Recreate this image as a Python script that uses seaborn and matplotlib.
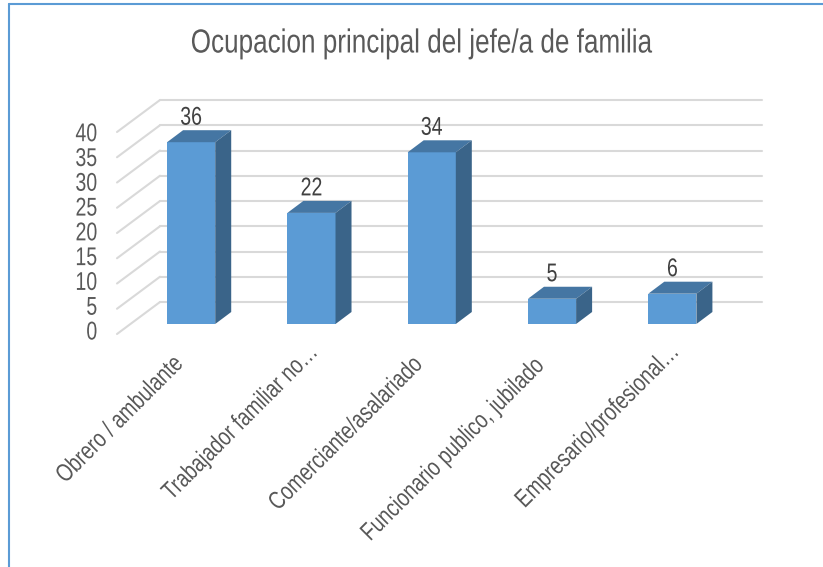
import matplotlib
matplotlib.use('Agg')
import matplotlib.pyplot as plt
import matplotlib.patheffects as pe
import seaborn as sns
from matplotlib.lines import Line2D
from matplotlib.patches import Polygon
from matplotlib.transforms import Affine2D, ScaledTranslation

categories = ['Obrero / ambulante', 'Trabajador familiar no…', 'Comerciante/asalariado',
              'Funcionario publico, jubilado', 'Empresario/profesional…']
values = [36, 22, 34, 5, 6]
y_ticks = [0, 5, 10, 15, 20, 25, 30, 35, 40]

W, H = 823, 567
FRONT = '#5B9BD5'
TOP = '#4576A3'
SIDE = '#3A6489'
GRID = '#D9D9D9'
TEXT = '#595959'
LABEL = '#404040'

sns.set_theme(style='white')
plt.rcParams['font.family'] = ['Liberation Sans', 'DejaVu Sans']


class Squeeze(pe.AbstractPathEffect):
    """Narrows text along its baseline, the reference font is condensed."""

    def __init__(self, factor=0.78, anchor='center'):
        super().__init__()
        self.factor = factor
        self.anchor = anchor

    def draw_path(self, renderer, gc, tpath, affine, rgbFace=None):
        box = tpath.get_extents()
        x = {'left': box.x0, 'right': box.x1, 'center': (box.x0 + box.x1) / 2}[self.anchor]
        squeeze = Affine2D().translate(-x, 0).scale(self.factor, 1).translate(x, 0)
        renderer.draw_path(gc, tpath, squeeze + affine, rgbFace)


fig = plt.figure(figsize=(W / 100, H / 100), dpi=100)


def px_axes(left, right, top, bottom):
    ax_new = fig.add_axes([left / W, 1 - bottom / H, (right - left) / W, (bottom - top) / H])
    ax_new.patch.set_alpha(0)
    sns.despine(ax=ax_new, left=True, bottom=True)
    return ax_new


# walls: diagonals on the left side, horizontal lines on the back
ax_wall = px_axes(117, 719, 132, 334)
ax_wall.set_xlim(117, 719)
ax_wall.set_ylim(0, 40)
ax_wall.set_xticks([])
ax_wall.set_yticks([])
for v in y_ticks:
    ax_wall.plot([117, 160], [v, v + 32 / 5.05], color=GRID, lw=1.5, clip_on=False)
    ax_wall.plot([160, 762], [v + 32 / 5.05, v + 32 / 5.05], color=GRID, lw=1.5, clip_on=False)

# value ticks have their own axes, their spacing is a bit tighter than the walls
ax_ticks = px_axes(117, 719, 131.7, 330)
ax_ticks.set_ylim(0, 40)
ax_ticks.set_xticks([])
ax_ticks.set_yticks(y_ticks)
ax_ticks.tick_params(axis='y', length=0, pad=14, labelsize=18.5, labelcolor=TEXT)
for lab in ax_ticks.get_yticklabels():
    lab.set_path_effects([Squeeze(0.76, 'right')])

ax = px_axes(131, 732.5, 122, 324)
sns.barplot(x=categories, y=values, color=FRONT, saturation=1, width=0.4, ax=ax, zorder=3,
            edgecolor='none', linewidth=0)
ax.set_ylim(0, 40)
ax.set_yticks([])
ax.set_ylabel('')
sns.despine(ax=ax, left=True, bottom=True)

# 3D look: top and side faces built from each bar
dx = 16 / 120.3
dy = 12 / 5.05
for bar in ax.patches:
    x0, w, h = bar.get_x(), bar.get_width(), bar.get_height()
    x1 = x0 + w
    ax.add_patch(Polygon([(x0, h), (x1, h), (x1 + dx, h + dy), (x0 + dx, h + dy)],
                         facecolor=TOP, edgecolor='none', clip_on=False, zorder=3))
    ax.add_patch(Polygon([(x1, 0), (x1 + dx, dy), (x1 + dx, h + dy), (x1, h)],
                         facecolor=SIDE, edgecolor='none', clip_on=False, zorder=3))

for txt in ax.bar_label(ax.containers[0], padding=9, fontsize=18.5, color=LABEL):
    txt.set_path_effects([Squeeze(0.76)])

ax.set_xticks(range(len(categories)))
ax.set_xticklabels(categories, rotation=45, ha='left', va='center', rotation_mode='anchor',
                   fontsize=18, color=TEXT)
ax.tick_params(axis='x', length=0, pad=0)
# the labels do not line up in the reference, place each start (pixels from tick)
label_shift = [(-131, -155), (-145, -172), (-159, -182.5), (-187, -213), (-153, -180)]
for lab, (sx, sy) in zip(ax.get_xticklabels(), label_shift):
    lab.set_path_effects([Squeeze(0.78, 'left')])
    lab.set_transform(lab.get_transform() + ScaledTranslation(sx / 100, sy / 100, fig.dpi_scale_trans))

title = fig.text(421 / W, 1 - 44 / H, 'Ocupacion principal del jefe/a de familia',
                 ha='center', va='center', fontsize=24, color=TEXT)
title.set_path_effects([Squeeze(0.783)])

# blue frame of the pasted chart
frame = dict(color=FRONT, lw=1.5, transform=fig.transFigure)
fig.add_artist(Line2D([8.5 / W, 8.5 / W], [0, 1 - 4 / H], **frame))
fig.add_artist(Line2D([8.5 / W, 1], [1 - 4 / H, 1 - 4 / H], **frame))

fig.savefig('out.png', dpi=100)
